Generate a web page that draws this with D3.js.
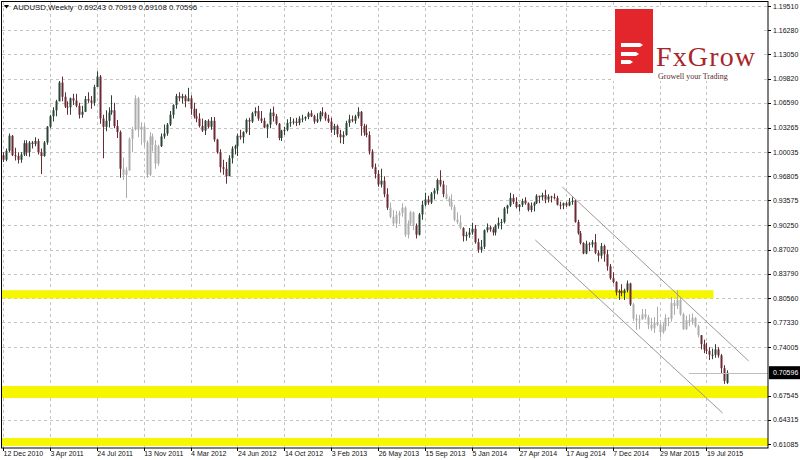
<!DOCTYPE html>
<html><head><meta charset="utf-8">
<script src="https://cdn.jsdelivr.net/npm/d3@7"></script>
<style>html,body{margin:0;padding:0;background:#fff;}svg{display:block;}</style>
</head><body><svg id="c" width="800" height="460"></svg>
<script>
const symbolTitle = "AUDUSD,Weekly";
const lastQuote = [0.69243, 0.70919, 0.69108, 0.70596];
const yTicks = [1.19510,1.16280,1.13050,1.09820,1.06590,1.03265,1.00035,0.96805,0.93575,0.90250,0.87020,0.83790,0.80560,0.77330,0.74005,0.67545,0.64315,0.61085];
const xTickLabels = ["12 Dec 2010","3 Apr 2011","24 Jul 2011","13 Nov 2011","4 Mar 2012","24 Jun 2012","14 Oct 2012","3 Feb 2013","26 May 2013","15 Sep 2013","5 Jan 2014","27 Apr 2014","17 Aug 2014","7 Dec 2014","29 Mar 2015","19 Jul 2015"];
const xTickIdx = [0,16,32,48,64,80,96,112,128,144,160,176,192,208,224,240];
const opens = [0.9960,0.9900,1.0020,1.0220,0.9960,0.9950,0.9900,0.9970,1.0120,1.0000,
1.0130,1.0110,1.0150,1.0000,0.9950,1.0130,1.0340,1.0480,1.0560,1.0680,
1.0930,1.0740,1.0610,1.0600,1.0720,1.0690,1.0620,1.0500,1.0540,1.0710,
1.0690,1.0660,1.0870,1.1010,1.0450,1.0340,1.0420,1.0530,1.0560,1.0350,
1.0270,0.9780,0.9700,0.9760,1.0180,1.0310,1.0720,1.0300,1.0340,1.0130,
0.9700,1.0210,1.0100,0.9850,1.0080,1.0210,1.0250,1.0370,1.0500,1.0630,
1.0750,1.0720,1.0750,1.0680,1.0720,1.0580,1.0480,1.0450,1.0350,1.0290,
1.0420,1.0340,1.0420,1.0170,1.0000,0.9800,0.9780,0.9680,0.9920,1.0050,
1.0080,1.0220,1.0200,1.0270,1.0430,1.0410,1.0520,1.0550,1.0450,1.0420,
1.0330,1.0370,1.0530,1.0480,1.0380,1.0190,1.0290,1.0300,1.0390,1.0400,
1.0410,1.0390,1.0450,1.0450,1.0470,1.0520,1.0480,1.0410,1.0440,1.0530,
1.0520,1.0450,1.0410,1.0300,1.0350,1.0240,1.0200,1.0230,1.0390,1.0440,
1.0420,1.0480,1.0540,1.0350,1.0260,1.0230,1.0010,0.9800,0.9710,0.9570,
0.9620,0.9440,0.9260,0.9140,0.9050,0.9160,0.9190,0.9260,0.8900,0.9050,
0.9200,0.9020,0.8900,0.9170,0.9300,0.9370,0.9330,0.9450,0.9490,0.9630,
0.9570,0.9440,0.9380,0.9340,0.9270,0.9100,0.9070,0.8990,0.8880,0.8900,
0.8930,0.8980,0.8800,0.8700,0.8740,0.8960,0.9000,0.8970,0.8930,0.9020,
0.9060,0.9070,0.9250,0.9290,0.9390,0.9340,0.9270,0.9300,0.9350,0.9320,
0.9230,0.9290,0.9320,0.9420,0.9400,0.9430,0.9370,0.9410,0.9400,0.9390,
0.9300,0.9290,0.9320,0.9290,0.9340,0.9350,0.9070,0.8920,0.8790,0.8650,
0.8780,0.8770,0.8800,0.8660,0.8620,0.8750,0.8640,0.8480,0.8320,0.8270,
0.8130,0.8150,0.8120,0.8160,0.8250,0.7970,0.7780,0.7760,0.7770,0.7840,
0.7800,0.7700,0.7650,0.7730,0.7700,0.7600,0.7680,0.7790,0.7780,0.7990,
0.7950,0.8030,0.7840,0.7640,0.7760,0.7740,0.7790,0.7680,0.7560,0.7440,
0.7370,0.7350,0.7300,0.7300,0.7370,0.7290,0.7120,0.69243];
const highs = [1.0000,1.0050,1.0250,1.0230,1.0060,1.0000,1.0000,1.0160,1.0160,1.0150,
1.0150,1.0200,1.0180,1.0050,1.0150,1.0350,1.0500,1.0600,1.0700,1.0950,
1.1010,1.0800,1.0680,1.0730,1.0780,1.0780,1.0660,1.0620,1.0750,1.0800,
1.0750,1.0900,1.1080,1.1030,1.0500,1.0560,1.0600,1.0760,1.0660,1.0430,
1.0290,0.9930,0.9800,1.0200,1.0340,1.0760,1.0740,1.0400,1.0380,1.0160,
1.0270,1.0250,1.0160,1.0100,1.0250,1.0370,1.0390,1.0550,1.0640,1.0780,
1.0800,1.0780,1.0770,1.0860,1.0760,1.0660,1.0580,1.0520,1.0450,1.0430,
1.0440,1.0470,1.0470,1.0180,1.0040,0.9900,0.9870,0.9960,1.0080,1.0100,
1.0250,1.0300,1.0280,1.0450,1.0460,1.0540,1.0600,1.0620,1.0550,1.0460,
1.0380,1.0580,1.0610,1.0510,1.0390,1.0300,1.0340,1.0440,1.0470,1.0450,
1.0460,1.0480,1.0500,1.0480,1.0540,1.0560,1.0500,1.0520,1.0550,1.0600,
1.0540,1.0500,1.0460,1.0380,1.0370,1.0300,1.0280,1.0420,1.0500,1.0490,
1.0500,1.0600,1.0550,1.0380,1.0370,1.0280,1.0040,0.9850,0.9760,0.9780,
0.9680,0.9520,0.9330,0.9230,0.9220,0.9220,0.9320,0.9280,0.9090,0.9220,
0.9210,0.9050,0.9190,0.9350,0.9460,0.9420,0.9470,0.9520,0.9650,0.9760,
0.9620,0.9560,0.9410,0.9440,0.9300,0.9200,0.9160,0.9000,0.8940,0.8990,
0.9060,0.9030,0.8850,0.8830,0.8970,0.9050,0.9020,0.9000,0.9040,0.9130,
0.9110,0.9270,0.9300,0.9460,0.9440,0.9400,0.9310,0.9380,0.9400,0.9330,
0.9330,0.9340,0.9440,0.9420,0.9460,0.9500,0.9440,0.9420,0.9450,0.9420,
0.9340,0.9330,0.9340,0.9390,0.9400,0.9370,0.9100,0.8950,0.8800,0.8820,
0.8800,0.8830,0.8910,0.8690,0.8790,0.8770,0.8700,0.8510,0.8400,0.8280,
0.8170,0.8240,0.8180,0.8290,0.8260,0.7990,0.7840,0.7830,0.7910,0.7910,
0.7830,0.7790,0.7800,0.7940,0.7730,0.7720,0.7840,0.7800,0.8070,0.8030,
0.8160,0.8060,0.7860,0.7820,0.7840,0.7850,0.7800,0.7700,0.7560,0.7500,
0.7460,0.7400,0.7380,0.7440,0.7400,0.7310,0.7160,0.70919];
const lows = [0.9870,0.9880,1.0000,0.9950,0.9890,0.9850,0.9860,0.9950,0.9950,0.9940,
1.0050,1.0080,0.9970,0.9710,0.9940,1.0100,1.0320,1.0410,1.0480,1.0680,
1.0680,1.0590,1.0500,1.0500,1.0630,1.0600,1.0450,1.0460,1.0540,1.0660,
1.0580,1.0620,1.0870,1.0380,0.9920,1.0280,1.0330,1.0500,1.0320,1.0190,
0.9660,0.9630,0.9390,0.9750,1.0000,1.0290,1.0200,1.0100,1.0070,0.9660,
0.9680,1.0010,0.9780,0.9820,1.0070,1.0180,1.0220,1.0350,1.0450,1.0580,
1.0680,1.0650,1.0600,1.0680,1.0500,1.0450,1.0400,1.0330,1.0270,1.0230,
1.0320,1.0300,1.0140,0.9980,0.9730,0.9700,0.9580,0.9690,0.9850,0.9970,
0.9950,1.0170,1.0120,1.0250,1.0230,1.0390,1.0480,1.0420,1.0390,1.0320,
1.0190,1.0320,1.0410,1.0360,1.0160,1.0150,1.0230,1.0280,1.0340,1.0370,
1.0350,1.0360,1.0400,1.0420,1.0440,1.0470,1.0380,1.0390,1.0410,1.0480,
1.0420,1.0390,1.0260,1.0230,1.0200,1.0120,1.0110,1.0220,1.0340,1.0400,
1.0380,1.0450,1.0220,1.0220,1.0200,0.9970,0.9780,0.9650,0.9540,0.9530,
0.9400,0.9230,0.9120,0.9030,0.8990,0.9040,0.9140,0.8870,0.8850,0.9020,
0.8960,0.8850,0.8890,0.9100,0.9280,0.9300,0.9310,0.9370,0.9440,0.9540,
0.9400,0.9370,0.9280,0.9230,0.9080,0.9040,0.8970,0.8810,0.8820,0.8860,
0.8900,0.8780,0.8660,0.8660,0.8710,0.8930,0.8940,0.8890,0.8890,0.8980,
0.8970,0.9050,0.9180,0.9270,0.9310,0.9250,0.9210,0.9270,0.9300,0.9210,
0.9200,0.9210,0.9310,0.9320,0.9360,0.9320,0.9330,0.9330,0.9370,0.9290,
0.9240,0.9240,0.9270,0.9280,0.9300,0.9060,0.8900,0.8770,0.8640,0.8640,
0.8680,0.8730,0.8640,0.8540,0.8580,0.8540,0.8420,0.8300,0.8250,0.8090,
0.8030,0.8080,0.8030,0.8130,0.7950,0.7750,0.7630,0.7640,0.7770,0.7770,
0.7640,0.7620,0.7590,0.7680,0.7530,0.7580,0.7620,0.7680,0.7740,0.7830,
0.7910,0.7820,0.7630,0.7630,0.7680,0.7700,0.7660,0.7530,0.7370,0.7320,
0.7310,0.7230,0.7240,0.7260,0.7260,0.7050,0.6910,0.69108];
const closes = [0.9900,1.0020,1.0220,0.9960,0.9950,0.9900,0.9970,1.0120,1.0000,1.0130,
1.0110,1.0150,1.0000,0.9950,1.0130,1.0340,1.0480,1.0560,1.0680,1.0930,
1.0740,1.0610,1.0600,1.0720,1.0690,1.0620,1.0500,1.0540,1.0710,1.0690,
1.0660,1.0870,1.1010,1.0450,1.0340,1.0420,1.0530,1.0560,1.0350,1.0270,
0.9780,0.9700,0.9760,1.0180,1.0310,1.0720,1.0300,1.0340,1.0130,0.9700,
1.0210,1.0100,0.9850,1.0080,1.0210,1.0250,1.0370,1.0500,1.0630,1.0750,
1.0720,1.0750,1.0680,1.0720,1.0580,1.0480,1.0450,1.0350,1.0290,1.0420,
1.0340,1.0420,1.0170,1.0000,0.9800,0.9780,0.9680,0.9920,1.0050,1.0080,
1.0220,1.0200,1.0270,1.0430,1.0410,1.0520,1.0550,1.0450,1.0420,1.0330,
1.0370,1.0530,1.0480,1.0380,1.0190,1.0290,1.0300,1.0390,1.0400,1.0410,
1.0390,1.0450,1.0450,1.0470,1.0520,1.0480,1.0410,1.0440,1.0530,1.0520,
1.0450,1.0410,1.0300,1.0350,1.0240,1.0200,1.0230,1.0390,1.0440,1.0420,
1.0480,1.0540,1.0350,1.0260,1.0230,1.0010,0.9800,0.9710,0.9570,0.9620,
0.9440,0.9260,0.9140,0.9050,0.9160,0.9190,0.9260,0.8900,0.9050,0.9200,
0.9020,0.8900,0.9170,0.9300,0.9370,0.9330,0.9450,0.9490,0.9630,0.9570,
0.9440,0.9380,0.9340,0.9270,0.9100,0.9070,0.8990,0.8880,0.8900,0.8930,
0.8980,0.8800,0.8700,0.8740,0.8960,0.9000,0.8970,0.8930,0.9020,0.9060,
0.9070,0.9250,0.9290,0.9390,0.9340,0.9270,0.9300,0.9350,0.9320,0.9230,
0.9290,0.9320,0.9420,0.9400,0.9430,0.9370,0.9410,0.9400,0.9390,0.9300,
0.9290,0.9320,0.9290,0.9340,0.9350,0.9070,0.8920,0.8790,0.8650,0.8780,
0.8770,0.8800,0.8660,0.8620,0.8750,0.8640,0.8480,0.8320,0.8270,0.8130,
0.8150,0.8120,0.8160,0.8250,0.7970,0.7780,0.7760,0.7770,0.7840,0.7800,
0.7700,0.7650,0.7730,0.7700,0.7600,0.7680,0.7790,0.7780,0.7990,0.7950,
0.8030,0.7840,0.7640,0.7760,0.7740,0.7790,0.7680,0.7560,0.7440,0.7370,
0.7350,0.7300,0.7300,0.7370,0.7290,0.7120,0.6950,0.70596];
// horizontal zones [fromIdx, toIdx (null = right edge), priceLow, priceHigh]
const zones = [[0,242.4,0.8050,0.8160],[0,null,0.6722,0.6882],[0,null,0.6083,0.6189]];
// channel lines [idx1, price1, idx2, price2]
const channel = [[190.8,0.9537,254.4,0.7216],[181.6,0.8830,245.5,0.6522]];
// faded bar ranges
const fadedRanges = [[41,53],[132,140],[151,156],[215,237]];

const svg = d3.select("#c");
const L = 2, R = 768, T = 2, B = 448;
const y = d3.scaleLinear().domain([0.61085, 1.19510]).range([444, 6]);
const x = d3.scaleLinear().domain([0, 247]).range([3, 727]);
const n = closes.length;
const data = d3.range(n).map(i => ({i, o: opens[i], h: highs[i], l: lows[i], c: closes[i]}));
const faded = i => fadedRanges.some(r => i >= r[0] && i <= r[1]);

svg.append("rect").attr("width", 800).attr("height", 460).attr("fill", "#fff");
svg.append("defs").append("clipPath").attr("id", "pc").append("rect")
  .attr("x", L).attr("y", T).attr("width", R - L).attr("height", B - T);
const plot = svg.append("g").attr("clip-path", "url(#pc)");

// grid
plot.selectAll(".hg").data(yTicks).join("line")
  .attr("x1", L).attr("x2", R).attr("y1", d => Math.round(y(d)) + 0.5).attr("y2", d => Math.round(y(d)) + 0.5)
  .attr("stroke", "#c4c4c4").attr("stroke-dasharray", "3,3");
plot.selectAll(".vg").data(xTickIdx).join("line")
  .attr("y1", T).attr("y2", B).attr("x1", d => Math.round(x(d)) + 0.5).attr("x2", d => Math.round(x(d)) + 0.5)
  .attr("stroke", "#c4c4c4").attr("stroke-dasharray", "3,3");

// zones
plot.selectAll(".zn").data(zones).join("rect")
  .attr("x", d => x(d[0]) - 2).attr("width", d => (d[1] === null ? R : x(d[1])) - x(d[0]) + 2)
  .attr("y", d => y(d[3])).attr("height", d => y(d[2]) - y(d[3]))
  .attr("fill", "#f6f600");

// candles
const col = d => faded(d.i) ? "#adadad" : (d.c >= d.o ? "#2b4436" : "#6a2b33");
const cg = plot.append("g");
cg.selectAll(".wk").data(data).join("line")
  .attr("x1", d => Math.round(x(d.i)) + 0.5).attr("x2", d => Math.round(x(d.i)) + 0.5)
  .attr("y1", d => y(d.h)).attr("y2", d => y(d.l))
  .attr("stroke", col).attr("stroke-width", 1);
cg.selectAll(".bd").data(data).join("rect")
  .attr("x", d => Math.round(x(d.i)) - 0.5).attr("width", 2)
  .attr("y", d => y(Math.max(d.o, d.c))).attr("height", d => Math.max(1, Math.abs(y(d.o) - y(d.c))))
  .attr("fill", col);

// channel lines
plot.selectAll(".ch").data(channel).join("line")
  .attr("x1", d => x(d[0])).attr("y1", d => y(d[1])).attr("x2", d => x(d[2])).attr("y2", d => y(d[3]))
  .attr("stroke", "#a09890").attr("stroke-width", 1);

// bid line
plot.append("line").attr("x1", x(234)).attr("x2", R)
  .attr("y1", Math.round(y(lastQuote[3])) + 0.5).attr("y2", Math.round(y(lastQuote[3])) + 0.5)
  .attr("stroke", "#bdbdbd");

// logo
const lg = svg.append("g");
lg.append("rect").attr("x", 612).attr("y", 7).attr("width", 150).attr("height", 74).attr("fill", "#fff");
lg.append("rect").attr("x", 615).attr("y", 9).attr("width", 38).attr("height", 64).attr("fill", "#e3262c");
[[43, 643], [52, 639], [60, 633]].forEach(b => {
  lg.append("path").attr("d", `M621,${b[0]} L${b[1]-3},${b[0]} L${b[1]},${b[0]+2} L${b[1]-3},${b[0]+4} L621,${b[0]+4} Z`).attr("fill", "#fff");
});
lg.append("text").attr("x", 656).attr("y", 66).attr("font-family", "'Liberation Serif','DejaVu Serif',serif")
  .attr("font-size", 28).attr("fill", "#a8262b").attr("textLength", 99).text("FxGrow");
lg.append("text").attr("x", 658).attr("y", 79).attr("font-family", "'Liberation Serif','DejaVu Serif',serif")
  .attr("font-size", 8).attr("fill", "#5b2b2b").text("Growell your Trading");

// frame
svg.append("rect").attr("x", L - 0.5).attr("y", T - 0.5).attr("width", R - L + 0.5).attr("height", B - T + 0.5)
  .attr("fill", "none").attr("stroke", "#000");

// right axis
const fontF = "'Liberation Sans', Arial, sans-serif";
svg.selectAll(".yt").data(yTicks).join("line")
  .attr("x1", R).attr("x2", R + 3).attr("y1", d => Math.round(y(d)) + 0.5).attr("y2", d => Math.round(y(d)) + 0.5)
  .attr("stroke", "#000");
svg.selectAll(".yl").data(yTicks).join("text")
  .attr("x", 773).attr("y", d => y(d) + 2.5).attr("font-family", fontF).attr("font-size", 7).attr("fill", "#111")
  .text(d => d.toFixed(5));
// bottom axis
svg.selectAll(".xt").data(xTickIdx).join("line")
  .attr("x1", d => Math.round(x(d)) + 0.5).attr("x2", d => Math.round(x(d)) + 0.5).attr("y1", B).attr("y2", B + 3)
  .attr("stroke", "#000");
svg.selectAll(".xl").data(xTickIdx).join("text")
  .attr("x", d => x(d) + 0.5).attr("y", 456).attr("font-family", fontF).attr("font-size", 7).attr("fill", "#111")
  .text((d, k) => xTickLabels[k]);

// price label
const py = y(lastQuote[3]);
svg.append("rect").attr("x", 769).attr("y", py - 6.5).attr("width", 31).attr("height", 13).attr("fill", "#000");
svg.append("text").attr("x", 773).attr("y", py + 2.5).attr("font-family", fontF).attr("font-size", 7).attr("fill", "#fff")
  .text(lastQuote[3].toFixed(5));

// header
svg.append("path").attr("d", "M4,5 L9,5 L6.5,8.5 Z").attr("fill", "#000");
svg.append("text").attr("x", 13).attr("y", 10).attr("font-family", fontF).attr("font-size", 7.8).attr("fill", "#111")
  .attr("xml:space", "preserve")
  .text(symbolTitle + "  " + lastQuote.map(v => v.toFixed(5)).join(" "));
</script></body></html>
